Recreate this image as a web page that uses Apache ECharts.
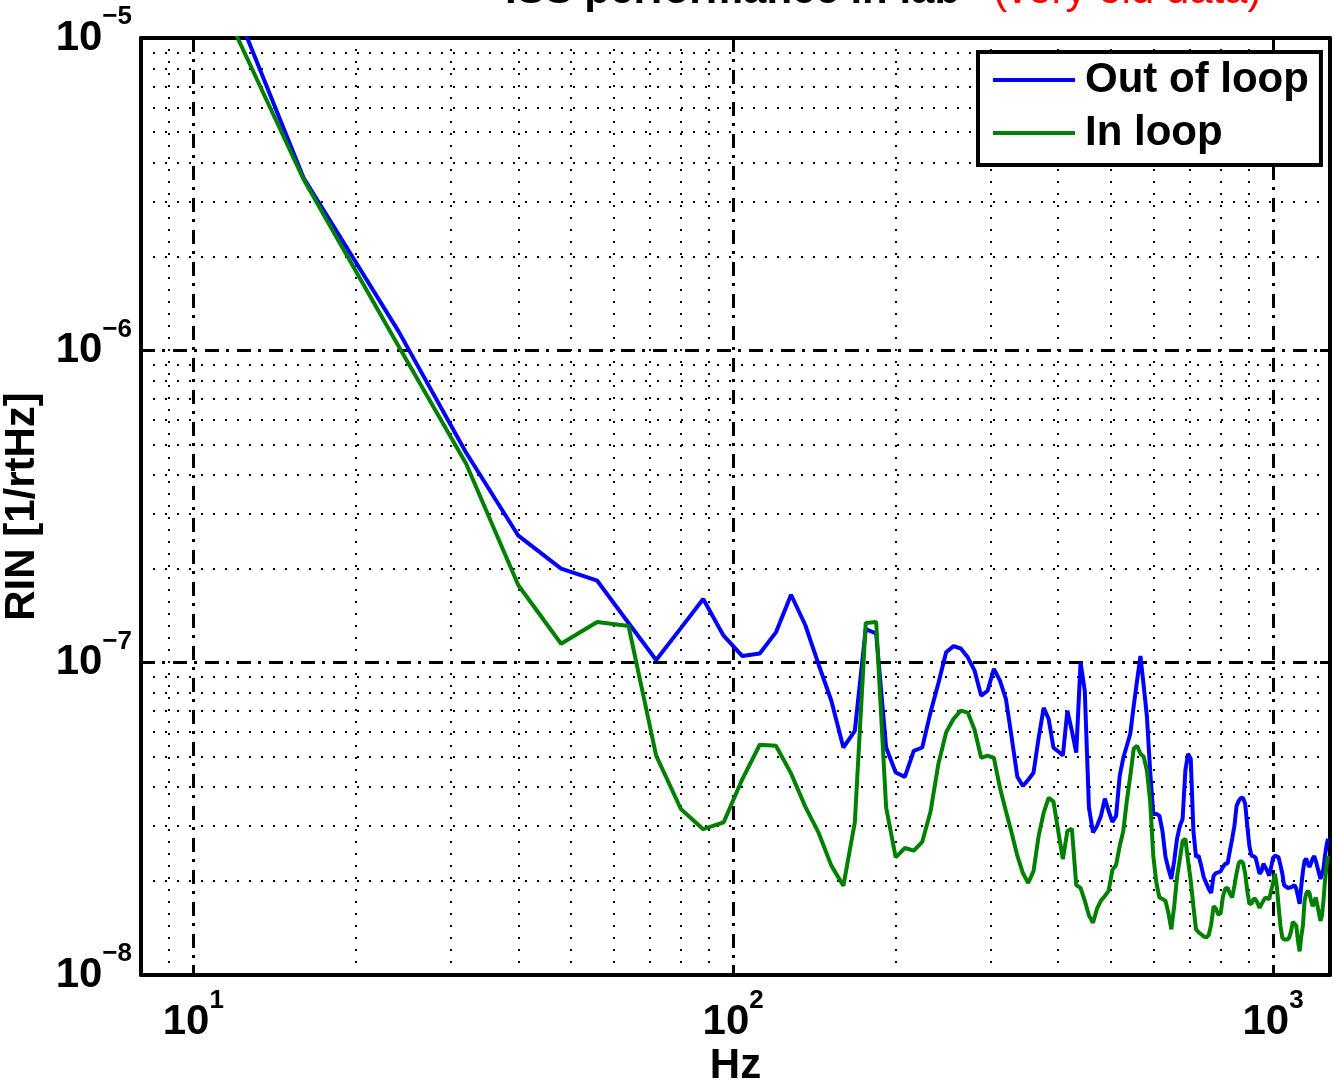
<!DOCTYPE html>
<html>
<head>
<meta charset="utf-8">
<title>ISS performance in lab</title>
<script src="https://cdn.jsdelivr.net/npm/echarts@6/dist/echarts.min.js"></script>
<style>
  html, body { margin: 0; padding: 0; background: #fff; }
  #chart { width: 1334px; height: 1084px; }
</style>
</head>
<body>
<div id="chart"></div>
<script>
// frequency bins (Hz), 8 Hz resolution
const freqHz = [
  8, 16, 24, 32, 40, 48, 56, 64, 72, 80,
  88, 96, 104, 112, 120, 128, 136, 144, 152, 160,
  168, 176, 184, 192, 200, 208, 216, 224, 232, 240,
  248, 256, 264, 272, 280, 288, 296, 304, 312, 320,
  328, 336, 344, 352, 360, 368, 376, 384, 392, 400,
  408, 416, 424, 432, 440, 448, 456, 464, 472, 480,
  488, 496, 504, 512, 520, 528, 536, 544, 552, 560,
  568, 576, 584, 592, 600, 608, 616, 624, 632, 640,
  648, 656, 664, 672, 680, 688, 696, 704, 712, 720,
  728, 736, 744, 752, 760, 768, 776, 784, 792, 800,
  808, 816, 824, 832, 840, 848, 856, 864, 872, 880,
  888, 896, 904, 912, 920, 928, 936, 944, 952, 960,
  968, 976, 984, 992, 1000, 1008, 1016, 1024, 1032, 1040,
  1048, 1056, 1064, 1072, 1080, 1088, 1096, 1104, 1112, 1120,
  1128, 1136, 1144, 1152, 1160, 1168, 1176, 1184, 1192, 1200,
  1208, 1216, 1224, 1232, 1240, 1248, 1256, 1264
];

const outOfLoop = [
  7.0e-5, 3.57e-6, 1.15e-6, 4.71e-7, 2.55e-7, 2.0e-7, 1.83e-7, 1.34e-7, 1.02e-7, 1.29e-7,
  1.60e-7, 1.22e-7, 1.05e-7, 1.07e-7, 1.25e-7, 1.65e-7, 1.32e-7, 9.85e-8, 7.55e-8, 5.35e-8,
  6.05e-8, 1.28e-7, 1.24e-7, 5.35e-8, 4.45e-8, 4.31e-8, 5.22e-8, 5.35e-8, 6.93e-8, 8.61e-8,
  1.08e-7, 1.13e-7, 1.11e-7, 1.04e-7, 9.43e-8, 7.84e-8, 8.13e-8, 9.55e-8, 8.76e-8, 7.66e-8,
  5.76e-8, 4.31e-8, 4.03e-8, 4.22e-8, 4.44e-8, 5.75e-8, 7.17e-8, 6.61e-8, 5.34e-8, 5.2e-8,
  5.04e-8, 7.02e-8, 6.05e-8, 5.15e-8, 1.0e-7, 8.13e-8, 3.44e-8, 2.86e-8, 3.0e-8, 3.23e-8,
  3.67e-8, 3.35e-8, 3.09e-8, 3.23e-8, 4.34e-8, 4.96e-8, 5.42e-8, 5.92e-8, 7.28e-8, 8.76e-8,
  1.05e-7, 8.44e-8, 6.71e-8, 4.51e-8, 3.28e-8, 3.28e-8, 3.23e-8, 2.89e-8, 2.39e-8, 2.19e-8,
  2.03e-8, 2.32e-8, 2.73e-8, 3.0e-8, 3.16e-8, 4.51e-8, 5.11e-8, 4.92e-8, 2.89e-8, 2.39e-8,
  2.41e-8, 2.24e-8, 2.06e-8, 1.97e-8, 1.89e-8, 1.83e-8, 2.08e-8, 2.12e-8, 2.13e-8, 2.15e-8,
  2.22e-8, 2.27e-8, 2.28e-8, 2.50e-8, 2.73e-8, 3.0e-8, 3.48e-8, 3.61e-8, 3.69e-8, 3.69e-8,
  3.53e-8, 3.0e-8, 2.59e-8, 2.41e-8, 2.40e-8, 2.38e-8, 2.24e-8, 2.11e-8, 2.15e-8, 2.27e-8,
  2.25e-8, 2.15e-8, 2.08e-8, 2.22e-8, 2.37e-8, 2.41e-8, 2.40e-8, 2.38e-8, 2.36e-8, 2.12e-8,
  1.94e-8, 1.93e-8, 1.90e-8, 1.90e-8, 1.91e-8, 1.93e-8, 1.94e-8, 1.89e-8, 1.79e-8, 1.69e-8,
  1.93e-8, 2.15e-8, 2.32e-8, 2.36e-8, 2.27e-8, 2.22e-8, 2.28e-8, 2.36e-8, 2.40e-8, 2.32e-8,
  2.22e-8, 2.12e-8, 2.03e-8, 2.03e-8, 2.19e-8, 2.41e-8, 2.59e-8, 2.73e-8
];

const inLoop = [
  4.61e-5, 3.53e-6, 1.03e-6, 4.34e-7, 1.77e-7, 1.15e-7, 1.35e-7, 1.31e-7, 5.04e-8, 3.40e-8,
  2.93e-8, 3.08e-8, 4.24e-8, 5.46e-8, 5.42e-8, 4.42e-8, 3.46e-8, 2.85e-8, 2.24e-8, 1.93e-8,
  3.08e-8, 1.34e-7, 1.35e-7, 3.44e-8, 2.38e-8, 2.55e-8, 2.50e-8, 2.67e-8, 3.33e-8, 4.75e-8,
  5.98e-8, 6.61e-8, 7.02e-8, 6.92e-8, 6.10e-8, 4.96e-8, 5.04e-8, 4.96e-8, 3.98e-8, 3.35e-8,
  2.85e-8, 2.41e-8, 2.12e-8, 1.97e-8, 2.15e-8, 2.79e-8, 3.31e-8, 3.69e-8, 3.59e-8, 2.89e-8,
  2.35e-8, 2.89e-8, 2.94e-8, 1.94e-8, 1.90e-8, 1.73e-8, 1.55e-8, 1.47e-8, 1.63e-8, 1.73e-8,
  1.79e-8, 1.86e-8, 2.17e-8, 2.25e-8, 2.59e-8, 2.89e-8, 3.61e-8, 4.34e-8, 5.30e-8, 5.42e-8,
  5.11e-8, 5.00e-8, 4.51e-8, 3.61e-8, 2.41e-8, 1.97e-8, 1.77e-8, 1.75e-8, 1.73e-8, 1.58e-8,
  1.40e-8, 1.66e-8, 2.06e-8, 2.35e-8, 2.69e-8, 2.73e-8, 2.32e-8, 2.00e-8, 1.66e-8, 1.40e-8,
  1.37e-8, 1.35e-8, 1.33e-8, 1.32e-8, 1.34e-8, 1.45e-8, 1.66e-8, 1.63e-8, 1.56e-8, 1.58e-8,
  1.79e-8, 1.89e-8, 1.90e-8, 1.82e-8, 1.77e-8, 1.93e-8, 2.12e-8, 2.28e-8, 2.32e-8, 2.28e-8,
  2.11e-8, 1.86e-8, 1.69e-8, 1.69e-8, 1.75e-8, 1.75e-8, 1.70e-8, 1.64e-8, 1.66e-8, 1.73e-8,
  1.77e-8, 1.78e-8, 1.75e-8, 1.86e-8, 1.97e-8, 2.11e-8, 1.93e-8, 1.66e-8, 1.44e-8, 1.32e-8,
  1.30e-8, 1.30e-8, 1.30e-8, 1.32e-8, 1.38e-8, 1.48e-8, 1.49e-8, 1.44e-8, 1.29e-8, 1.19e-8,
  1.33e-8, 1.44e-8, 1.73e-8, 1.82e-8, 1.86e-8, 1.83e-8, 1.73e-8, 1.66e-8, 1.66e-8, 1.77e-8,
  1.75e-8, 1.58e-8, 1.49e-8, 1.55e-8, 1.73e-8, 2.00e-8, 2.22e-8, 2.41e-8
];

// minor grid positions (MATLAB-style log grid)
const xMinorGrid = [9, 20, 30, 40, 50, 60, 70, 80, 90, 200, 300, 400, 500, 600, 700, 800, 900];
const yMinorGrid = [
  2e-8, 3e-8, 4e-8, 5e-8, 6e-8, 7e-8, 8e-8, 9e-8,
  2e-7, 3e-7, 4e-7, 5e-7, 6e-7, 7e-7, 8e-7, 9e-7,
  2e-6, 3e-6, 4e-6, 5e-6, 6e-6, 7e-6, 8e-6, 9e-6
];

const FONT = 'Liberation Sans, Arial, Helvetica, sans-serif';

const powLabel = (v) => {
  const lg = Math.log10(v);
  const e = Math.round(lg);
  if (Math.abs(lg - e) > 1e-6) return '';
  return '{b|10}{s|' + String(e).replace('-', '\u2212') + '}';
};

const labelRich = {
  b: { fontSize: 42, fontWeight: 'bold', lineHeight: 68, fontFamily: FONT, color: '#000' },
  s: { fontSize: 26, fontWeight: 'bold', lineHeight: 26, verticalAlign: 'top', fontFamily: FONT, color: '#000' }
};

const frameLine = { show: true, onZero: false, lineStyle: { color: '#000', width: 4 } };
const innerTick = { show: true, inside: true, length: 10, lineStyle: { color: '#000', width: 3 } };
const majorGrid = { show: true, lineStyle: { color: '#000', width: 3, type: [14, 7, 3, 8] } };
const axisName = { fontSize: 42, fontWeight: 'bold', fontFamily: FONT, color: '#000' };

const toPairs = (vals) => freqHz.map((f, i) => [f, vals[i]]);

const option = {
  animation: false,
  backgroundColor: '#fff',
  title: {
    left: 505,
    top: -30,
    padding: 0,
    text: '{a|ISS performance in lab}{b|(very old data)}',
    textStyle: {
      rich: {
        a: { fontSize: 42, fontWeight: 'bold', fontFamily: FONT, color: '#000' },
        b: { fontSize: 42, fontWeight: 'normal', fontFamily: FONT, color: '#ff0000', padding: [0, 0, 0, 33] }
      }
    }
  },
  grid: { left: 141, right: 4, top: 38, bottom: 109, containLabel: false, outerBoundsMode: 'none' },
  legend: {
    orient: 'vertical',
    left: 978,
    top: 52,
    z: 20,
    padding: [6, 12, 10, 15],
    itemGap: 9,
    itemWidth: 82,
    itemHeight: 4,
    icon: 'rect',
    borderColor: '#000',
    borderWidth: 4,
    borderRadius: 0,
    backgroundColor: '#fff',
    textStyle: { fontSize: 42, fontWeight: 'bold', fontFamily: FONT, color: '#000', lineHeight: 44, padding: [0, 0, 0, 5] },
    data: ['Out of loop', 'In loop']
  },
  xAxis: [
    {
      type: 'log', logBase: 10, min: 8, max: 1275, position: 'bottom',
      axisLine: frameLine, axisTick: innerTick,
      axisLabel: { formatter: powLabel, rich: labelRich, margin: 13, color: '#000' },
      splitLine: majorGrid,
      name: 'Hz', nameLocation: 'middle', nameGap: 70, nameMoveOverlap: false,
      nameTextStyle: axisName
    },
    {
      type: 'log', logBase: 10, min: 8, max: 1275, position: 'top',
      axisLine: frameLine, axisTick: innerTick,
      axisLabel: { show: false }, splitLine: { show: false }
    }
  ],
  yAxis: [
    {
      type: 'log', logBase: 10, min: 1e-8, max: 1e-5, position: 'left',
      axisLine: frameLine, axisTick: innerTick,
      axisLabel: { formatter: powLabel, rich: labelRich, margin: 9, color: '#000' },
      splitLine: majorGrid,
      name: 'RIN [1/rtHz]', nameLocation: 'middle', nameGap: 98, nameMoveOverlap: false,
      nameTextStyle: axisName
    },
    {
      type: 'log', logBase: 10, min: 1e-8, max: 1e-5, position: 'right',
      axisLine: frameLine, axisTick: innerTick,
      axisLabel: { show: false }, splitLine: { show: false }
    }
  ],
  series: [
    {
      // holder for the dotted minor grid
      type: 'line',
      data: [],
      silent: true,
      markLine: {
        silent: true,
        z: 1,
        precision: 20,
        symbol: ['none', 'none'],
        label: { show: false },
        lineStyle: { color: '#000', width: 2, type: [2, 10] },
        emphasis: { disabled: true },
        data: xMinorGrid.map((v) => ({ xAxis: v })).concat(yMinorGrid.map((v) => ({ yAxis: v })))
      }
    },
    {
      name: 'Out of loop',
      type: 'line',
      z: 10,
      showSymbol: false,
      symbol: 'none',
      color: '#0000ff',
      lineStyle: { color: '#0000ff', width: 4 },
      data: toPairs(outOfLoop)
    },
    {
      name: 'In loop',
      type: 'line',
      z: 10,
      showSymbol: false,
      symbol: 'none',
      color: '#008000',
      lineStyle: { color: '#008000', width: 4 },
      data: toPairs(inLoop)
    }
  ]
};

const chart = echarts.init(document.getElementById('chart'));
chart.setOption(option);
</script>
</body>
</html>
